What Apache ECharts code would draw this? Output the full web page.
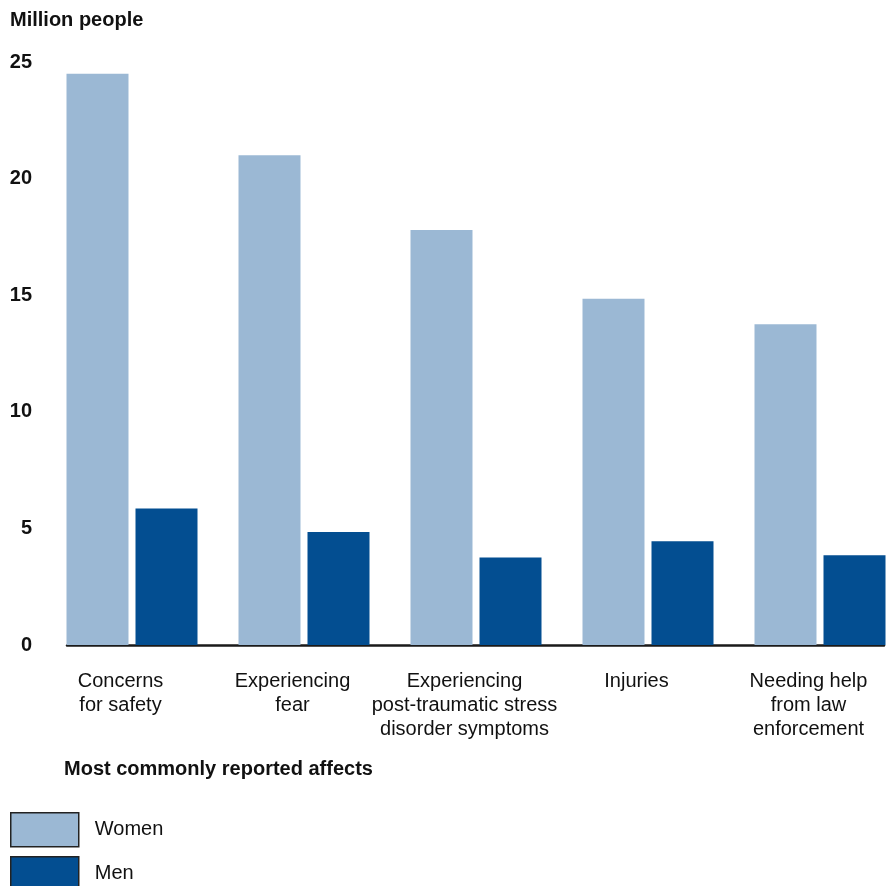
<!DOCTYPE html>
<html>
<head>
<meta charset="utf-8">
<script src="https://cdn.jsdelivr.net/npm/echarts@6/dist/echarts.min.js"></script>
<style>html,body{margin:0;padding:0;background:#fff;}#c{width:886px;height:886px;}</style>
</head>
<body>
<div id="c"></div>
<script>
const categories = ["Concerns\nfor safety", "Experiencing\nfear", "Experiencing\npost-traumatic stress\ndisorder symptoms", "Injuries", "Needing help\nfrom law\nenforcement"];
const women = [24.5, 21.0, 17.8, 14.85, 13.75];
const men = [5.85, 4.85, 3.75, 4.45, 3.85];
const yTicks = [0, 5, 10, 15, 20, 25];

const FONT = '"Liberation Sans", Arial, sans-serif';
const legendBase = {
  orient: 'vertical', left: 10, padding: 0,
  itemWidth: 68, itemHeight: 34, icon: 'rect',
  itemStyle: {borderColor: '#222', borderWidth: 1.5},
  textStyle: {fontSize: 20, color: '#111', fontFamily: FONT, padding: [0, 0, 0, 11]}
};
const chart = echarts.init(document.getElementById('c'), null, {renderer: 'canvas'});
chart.setOption({
  backgroundColor: '#fff',
  textStyle: {fontFamily: FONT},
  title: [
    {text: 'Million people', left: 10, top: 10, padding: 0, textStyle: {fontSize: 20, fontWeight: 'bold', color: '#111', fontFamily: FONT}},
    {text: 'Most commonly reported affects', left: 64, top: 759, padding: 0, textStyle: {fontSize: 20, fontWeight: 'bold', color: '#111', fontFamily: FONT}}
  ],
  legend: [
    Object.assign({}, legendBase, {top: 812, data: ['Women']}),
    Object.assign({}, legendBase, {top: 856, data: ['Men']})
  ],
  grid: [
    {left: 46, width: 860, top: 62, bottom: 241, containLabel: false, outerBoundsMode: 'none'},
    {left: 67, right: 2, top: 62, bottom: 241, containLabel: false, outerBoundsMode: 'none'}
  ],
  xAxis: [
    {type: 'category', gridIndex: 0, data: categories,
     axisLine: {show: false}, axisTick: {show: false},
     axisLabel: {fontSize: 20, color: '#111', lineHeight: 24, margin: 24, interval: 0, padding: [0, 23, 0, 0], fontFamily: FONT}},
    {type: 'value', gridIndex: 1, min: 0, max: 1,
     axisLine: {show: true, lineStyle: {color: '#1a1a1a', width: 2.5}},
     axisTick: {show: false}, axisLabel: {show: false}, splitLine: {show: false}}
  ],
  yAxis: [
    {type: 'value', gridIndex: 0, min: yTicks[0], max: yTicks[yTicks.length - 1], interval: 5,
     axisLine: {show: false}, axisTick: {show: false}, splitLine: {show: false},
     axisLabel: {fontSize: 20, fontWeight: 'bold', color: '#111', margin: 14, fontFamily: FONT}},
    {type: 'value', gridIndex: 1, min: 0, max: 1, show: false}
  ],
  series: [
    {name: 'Women', type: 'bar', xAxisIndex: 0, yAxisIndex: 0, data: women,
     barWidth: 62, barGap: '11.3%', itemStyle: {color: '#9bb8d4'}},
    {name: 'Men', type: 'bar', xAxisIndex: 0, yAxisIndex: 0, data: men,
     barWidth: 62, barGap: '11.3%', itemStyle: {color: '#034e91'}}
  ]
});
</script>
</body>
</html>
